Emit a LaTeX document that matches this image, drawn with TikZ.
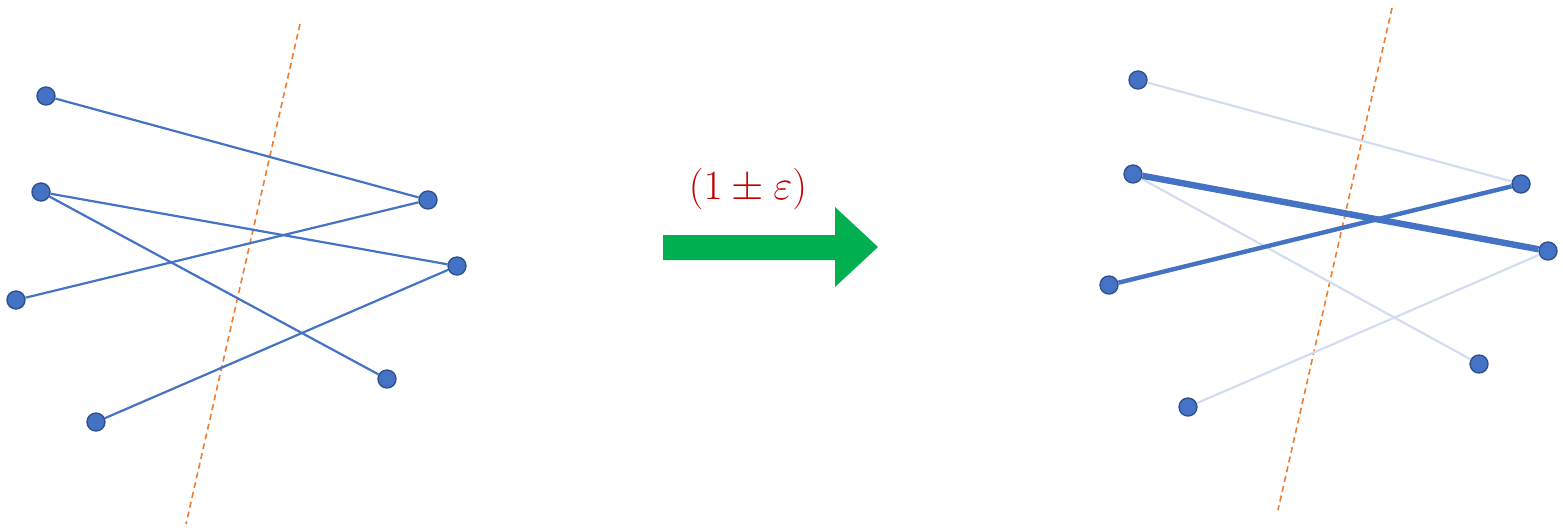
\documentclass[tikz,border=0pt]{standalone}
\definecolor{nodeblue}{HTML}{4472C4}
\definecolor{nodeborder}{HTML}{2F528F}
\definecolor{faded}{HTML}{D3DCF0}
\definecolor{cutorange}{HTML}{ED7D31}
\definecolor{arrowgreen}{HTML}{00B050}
\definecolor{labelred}{HTML}{C00000}
\tikzset{
  vtx/.style={circle, fill=nodeblue, draw=nodeborder, line width=0.7pt, minimum size=9pt, inner sep=0pt},
  edge/.style={draw=nodeblue, line width=1.1pt},
  fadededge/.style={draw=faded, line width=1.1pt},
  heavyedge/.style={draw=nodeblue, line width=3.2pt},
  midedge/.style={draw=nodeblue, line width=2.2pt},
  cut/.style={draw=cutorange, line width=0.8pt, dash pattern=on 3pt off 2pt},
}
\begin{document}
\begin{tikzpicture}[x=0.5pt, y=-0.5pt]
\useasboundingbox (0,0) rectangle (1563,527);
% left graph
\draw[cut] (300,24) -- (186,524);
\node[vtx] (A) at (46,96) {};
\node[vtx] (B) at (41,192) {};
\node[vtx] (C) at (16,300) {};
\node[vtx] (D) at (96,422) {};
\node[vtx] (E) at (428,200) {};
\node[vtx] (F) at (457,266) {};
\node[vtx] (G) at (387,379) {};
\draw[edge] (A) -- (E);
\draw[edge] (B) -- (F);
\draw[edge] (B) -- (G);
\draw[edge] (C) -- (E);
\draw[edge] (D) -- (F);
% arrow
\fill[arrowgreen] (663,235) -- (835,235) -- (835,207) -- (878,247) -- (835,287) -- (835,260) -- (663,260) -- cycle;
\node[text=labelred, font=\fontsize{22}{26}\selectfont] (lbl) at (748,189) {$(1\pm\varepsilon)$};
% right graph
\draw[cut] (1392,8) -- (1278,510);
\node[vtx] (A2) at (1138,80) {};
\node[vtx] (B2) at (1133,174) {};
\node[vtx] (C2) at (1109,285) {};
\node[vtx] (D2) at (1188,407) {};
\node[vtx] (E2) at (1521,184) {};
\node[vtx] (F2) at (1548,251) {};
\node[vtx] (G2) at (1479,364) {};
\draw[fadededge] (A2) -- (E2);
\draw[fadededge] (B2) -- (G2);
\draw[fadededge] (D2) -- (F2);
\draw[midedge] (C2) -- (E2);
\draw[heavyedge] (B2) -- (F2);
\end{tikzpicture}
\end{document}
